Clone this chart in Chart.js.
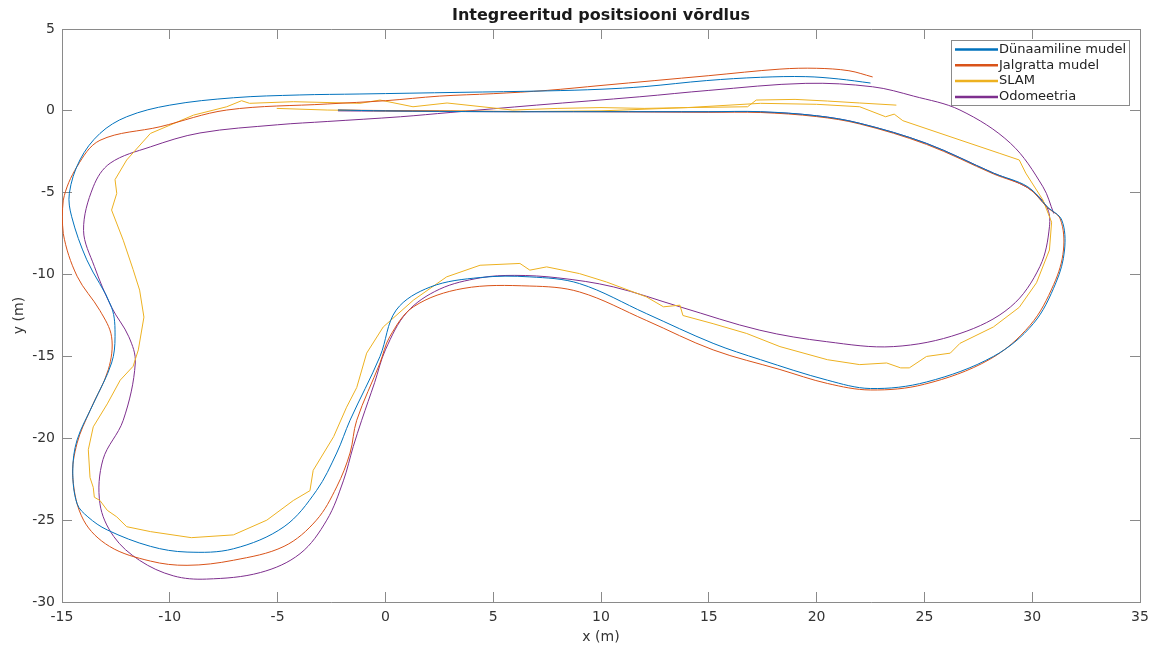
<!DOCTYPE html>
<html>
<head>
<meta charset="utf-8">
<script src="https://cdn.jsdelivr.net/npm/chart.js@4.4.1/dist/chart.umd.min.js"></script>
<style>
  html, body { margin: 0; padding: 0; background: #ffffff; }
  #wrap { width: 1158px; height: 648px; }
</style>
</head>
<body>
<div id="wrap"><canvas id="c" width="1158" height="648"></canvas></div>
<script>
// ---------- DATA ----------
const seriesLabels = ['Dünaamiline mudel', 'Jalgratta mudel', 'SLAM', 'Odomeetria'];
const xTicks = [-15, -10, -5, 0, 5, 10, 15, 20, 25, 30, 35];
const yTicks = [-30, -25, -20, -15, -10, -5, 0, 5];

const dunX = [-2.2, 0, 5, 10, 15, 17.4, 20, 22, 25.1, 28.2, 29.8, 30.7, 31.37, 31.5, 31.1, 30.05, 28.2, 25.1, 22.5, 20.5, 17.4, 15.2, 12.1, 9.0, 6.7, 4.4, 2.1, 0.5, -0.25, -1.64, -2.26, -3.2, -4.7, -7.05, -9.2, -10.9, -12.9, -13.8, -14.3, -14.5, -14.3, -13.55, -12.7, -12.54, -12.7, -13.85, -14.55, -14.66, -14.17, -13.24, -12.0, -10.0, -7.05, -4.0, -1.18, 3.46, 7.5, 10, 12, 14.9, 17.4, 19.5, 21, 22.5];
const dunY = [0.05, 0.0, -0.05, -0.05, -0.05, -0.05, -0.3, -0.76, -1.99, -3.8, -4.64, -5.86, -6.67, -8.5, -10.5, -13.0, -15.0, -16.56, -16.96, -16.45, -15.2, -14.2, -12.38, -10.55, -10.14, -10.18, -10.75, -12.17, -15.0, -18.9, -20.9, -23.2, -25.4, -26.75, -26.95, -26.6, -25.6, -24.8, -24.0, -22.0, -20.1, -17.9, -15.4, -13.8, -12.0, -9.1, -6.47, -5.04, -3.0, -1.38, -0.36, 0.35, 0.8, 0.97, 1.03, 1.13, 1.22, 1.32, 1.48, 1.85, 2.05, 2.09, 1.95, 1.7];

const jalX = [-2.2, 0, 5, 10, 15, 17.4, 20, 22, 25.1, 28.2, 29.8, 30.7, 31.3, 31.45, 31.0, 29.9, 28.0, 25.0, 22.5, 20.5, 18.3, 15.2, 12.1, 9.0, 6.7, 3.6, 1.3, 0.2, -0.25, -1.33, -1.64, -2.26, -3.2, -4.7, -7.05, -9.2, -10.9, -12.8, -14.0, -14.5, -14.3, -13.7, -12.85, -12.7, -13.24, -14.3, -14.94, -14.94, -14.3, -13.24, -10.45, -7.36, -2.7, 0, 2.5, 5, 7.5, 10, 15, 18.3, 20, 21.5, 22.6];
const jalY = [0.05, 0.02, -0.03, -0.05, -0.08, -0.1, -0.35, -0.8, -2.05, -3.85, -4.7, -5.9, -6.6, -8.5, -10.6, -13.1, -15.2, -16.7, -17.05, -16.65, -15.8, -14.6, -12.8, -11.06, -10.7, -10.85, -11.97, -13.8, -15.4, -18.9, -20.9, -22.97, -25.0, -26.6, -27.45, -27.76, -27.5, -26.6, -25.0, -22.4, -20.3, -18.3, -15.8, -13.8, -12.2, -10.1, -7.5, -5.45, -3.4, -1.8, -0.97, 0.05, 0.42, 0.62, 0.9, 1.05, 1.25, 1.55, 2.15, 2.55, 2.6, 2.45, 2.07];

const slamX = [-5.04, -2.7, 0, 3, 6, 10, 14, 17.4, 20, 22, 23.2, 23.6, 24.0, 26.65, 28.5, 29.4, 29.7, 30.5, 30.9, 30.8, 30.2, 29.4, 28.2, 26.65, 26.2, 25.1, 24.3, 23.9, 23.25, 22.0, 20.5, 18.3, 16.76, 15.2, 13.8, 13.66, 12.9, 12.1, 10.25, 9.0, 7.48, 6.7, 6.24, 4.39, 2.84, 1.3, -0.1, -0.87, -1.33, -1.8, -2.4, -3.35, -3.5, -4.27, -5.5, -7.05, -9.0, -10.9, -12.0, -12.46, -12.9, -13.24, -13.5, -13.55, -13.7, -13.78, -13.55, -12.9, -12.3, -11.7, -11.46, -11.2, -11.4, -11.7, -12.16, -12.7, -12.46, -12.54, -12.0, -10.9, -8.9, -7.36, -6.67, -6.3, -4.27, -1.18, -0.25, 1.28, 2.86, 5.9, 8, 10, 12, 14, 16.8, 17.2, 19, 20.5, 22, 23.7];
const slamY = [0.15, 0.05, 0.0, 0.0, -0.05, 0.0, 0.2, 0.46, 0.4, 0.25, -0.36, -0.2, -0.6, -1.78, -2.6, -3.0, -3.8, -5.45, -6.8, -8.5, -10.5, -12.0, -13.2, -14.2, -14.8, -15.0, -15.7, -15.7, -15.4, -15.5, -15.2, -14.4, -13.6, -13.0, -12.5, -11.87, -11.97, -11.36, -10.45, -9.94, -9.53, -9.73, -9.32, -9.43, -10.14, -11.56, -13.2, -14.8, -16.9, -18.1, -19.9, -21.96, -23.2, -23.8, -25.0, -25.9, -26.07, -25.7, -25.4, -24.8, -24.4, -23.8, -23.6, -23.0, -22.4, -20.7, -19.3, -17.9, -16.45, -15.6, -14.6, -12.6, -10.95, -9.7, -7.9, -6.06, -5.04, -4.2, -3.0, -1.38, -0.26, 0.25, 0.62, 0.46, 0.56, 0.46, 0.66, 0.25, 0.48, 0.05, 0.15, 0.2, 0.15, 0.2, 0.25, 0.66, 0.7, 0.6, 0.48, 0.35];

const odoX = [-2.2, 0, 5, 10, 15, 17.4, 20, 22, 25.1, 28.2, 29.8, 30.67, 30.8, 30.36, 29.0, 26.65, 23.56, 20.47, 17.37, 13.66, 10.57, 8.0, 6.0, 4.4, 2.5, 1.0, 0.0, -0.5, -1.1, -1.49, -1.95, -2.72, -3.96, -5.8, -8.3, -9.84, -11.4, -12.6, -13.24, -13.1, -12.16, -11.6, -11.9, -12.7, -13.5, -14.0, -13.55, -12.77, -10.9, -8.6, -5.0, -2.7, 0.7, 3.0, 7.0, 11.8, 15.0, 19.5, 22.6, 24.5, 26.65, 29.0, 30.5, 31.0];
const odoY = [0.0, -0.02, -0.05, -0.05, -0.07, -0.07, -0.3, -0.76, -1.99, -3.8, -4.7, -5.86, -7.08, -9.5, -11.97, -13.6, -14.4, -14.1, -13.4, -11.97, -10.75, -10.2, -10.05, -10.2, -10.9, -12.3, -14.6, -16.6, -18.9, -20.5, -22.6, -25.0, -27.05, -28.2, -28.6, -28.4, -27.46, -26.0, -24.0, -21.3, -18.9, -15.4, -13.8, -12.0, -9.5, -7.3, -4.64, -3.2, -2.2, -1.35, -0.85, -0.65, -0.36, -0.1, 0.35, 0.86, 1.25, 1.68, 1.47, 0.9, 0.05, -1.99, -4.64, -6.27];

const seriesColors = ['#0072BD', '#D95319', '#EDB120', '#7E2F8E'];

// ---------- build datasets ----------
function pts(xs, ys) { return xs.map((x, i) => ({ x: x, y: ys[i] })); }
const seriesData = [pts(dunX, dunY), pts(jalX, jalY), pts(slamX, slamY), pts(odoX, odoY)];
const tensions = [0.35, 0.35, 0, 0.35];

const datasets = seriesLabels.map((lab, i) => ({
  label: lab,
  data: seriesData[i],
  showLine: true,
  borderColor: seriesColors[i],
  backgroundColor: seriesColors[i],
  borderWidth: 1,
  pointRadius: 0,
  pointHoverRadius: 0,
  tension: tensions[i],
  fill: false,
  xAxisID: 'x',
  yAxisID: 'y'
}));

Chart.defaults.font.family = "'DejaVu Sans', sans-serif";
Chart.defaults.color = '#333333';

const axisColor = '#8a8a8a';

const legendPlugin = {
  id: 'boxLegend',
  afterDraw(chart) {
    const ctx = chart.ctx;
    const ca = chart.chartArea;
    const w = 178, rowH = 15.8;
    const left = ca.right - 189, top = ca.top + 11;
    const h = 65;
    ctx.save();
    ctx.fillStyle = '#ffffff';
    ctx.fillRect(left, top, w, h);
    ctx.strokeStyle = '#8a8a8a';
    ctx.lineWidth = 1;
    ctx.strokeRect(left + 0.5, top + 0.5, w, h);
    ctx.font = "13px 'DejaVu Sans', sans-serif";
    ctx.textBaseline = 'middle';
    ctx.textAlign = 'left';
    chart.data.datasets.forEach((ds, i) => {
      const y = top + 9.5 + i * rowH;
      ctx.strokeStyle = ds.borderColor;
      ctx.lineWidth = 2.5;
      ctx.beginPath();
      ctx.moveTo(left + 4, y);
      ctx.lineTo(left + 47, y);
      ctx.stroke();
      ctx.fillStyle = '#222222';
      ctx.fillText(ds.label, left + 48, y);
    });
    ctx.restore();
  }
};

function noPad(s) { s.paddingLeft = 0; s.paddingRight = 0; s.paddingTop = 0; s.paddingBottom = 0; }

new Chart(document.getElementById('c'), {
  type: 'scatter',
  data: { datasets: datasets },
  options: {
    responsive: false,
    animation: false,
    devicePixelRatio: 1,
    layout: { padding: 0 },
    plugins: {
      legend: { display: false },
      tooltip: { enabled: false },
      title: {
        display: true,
        fullSize: false,
        text: 'Integreeritud positsiooni võrdlus',
        color: '#1a1a1a',
        font: { size: 16, weight: 'bold' },
        padding: { top: 6, bottom: 3.8 }
      }
    },
    scales: {
      x: {
        type: 'linear', position: 'bottom', min: -15, max: 35,
        afterBuildTicks: s => { s.ticks = xTicks.map(v => ({ value: v })); },
        afterFit: s => { s.height = 46; noPad(s); },
        ticks: { font: { size: 14 }, color: '#333333', padding: 17, maxRotation: 0, autoSkip: false },
        grid: { drawOnChartArea: false, tickLength: -10, color: axisColor, lineWidth: 1 },
        border: { display: true, color: axisColor, width: 1 },
        title: { display: true, text: 'x (m)', font: { size: 14 }, color: '#333333', padding: { top: 0, bottom: 2 } }
      },
      x2: {
        type: 'linear', position: 'top', min: -15, max: 35,
        afterBuildTicks: s => { s.ticks = xTicks.map(v => ({ value: v })); },
        afterFit: s => { s.height = 0; noPad(s); },
        ticks: { display: false },
        grid: { drawOnChartArea: false, tickLength: -10, color: axisColor, lineWidth: 1 },
        border: { display: true, color: axisColor, width: 1 }
      },
      y: {
        type: 'linear', position: 'left', min: -30, max: 5,
        afterBuildTicks: s => { s.ticks = yTicks.map(v => ({ value: v })); },
        afterFit: s => { s.width = 62; noPad(s); },
        ticks: { font: { size: 14 }, color: '#333333', padding: 17, autoSkip: false },
        grid: { drawOnChartArea: false, tickLength: -10, color: axisColor, lineWidth: 1 },
        border: { display: true, color: axisColor, width: 1 },
        title: { display: true, text: 'y (m)', font: { size: 14 }, color: '#333333', padding: { top: 11, bottom: 0 } }
      },
      y2: {
        type: 'linear', position: 'right', min: -30, max: 5,
        afterBuildTicks: s => { s.ticks = yTicks.map(v => ({ value: v })); },
        afterFit: s => { s.width = 18; noPad(s); },
        ticks: { display: false },
        grid: { drawOnChartArea: false, tickLength: -10, color: axisColor, lineWidth: 1 },
        border: { display: true, color: axisColor, width: 1 }
      }
    }
  },
  plugins: [legendPlugin]
});
</script>
</body>
</html>
